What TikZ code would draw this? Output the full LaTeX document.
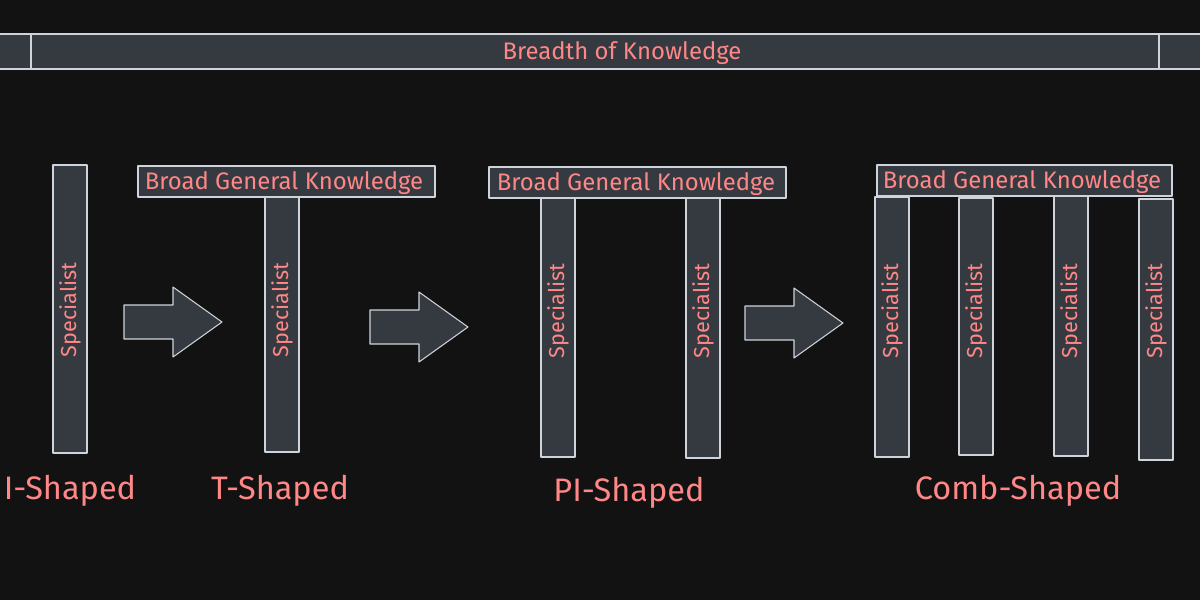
\documentclass[tikz,border=0pt]{standalone}
\usepackage{fontspec}
\setmainfont{Fira Sans}
\definecolor{bgcol}{HTML}{121212}
\definecolor{barfill}{HTML}{343A40}
\definecolor{barline}{HTML}{CED4DA}
\definecolor{salmon}{HTML}{FF8787}
\tikzset{
  bar/.style={draw=barline,fill=barfill,line width=0.6pt,line join=round},
  spec/.style={text=salmon,rotate=90,inner sep=0pt,font=\fontsize{12.3}{14}\selectfont},
  broad/.style={text=salmon,inner sep=0pt,font=\fontsize{13.6}{15}\selectfont},
  shape label/.style={text=salmon,inner sep=0pt,font=\fontsize{18.5}{20}\selectfont},
}
\begin{document}
\begin{tikzpicture}[x=0.02cm,y=-0.02cm]
  \useasboundingbox (0,0) rectangle (1200,600);
  \fill[bgcol] (0,0) rectangle (1200,600);

  % breadth bar
  \draw[bar] (-2,34) rectangle (31,69);
  \draw[bar] (31,34) rectangle (1159,69);
  \draw[bar] (1159,34) rectangle (1202,69);
  \node[broad] (breadth) at (622,53) {Breadth of Knowledge};

  % I-shaped
  \draw[bar] (53,165) rectangle (87,453);
  \node[spec] (ispec) at (70,310) {Specialist};
  \node[shape label] (ilabel) at (70,491) {I-Shaped};

  % T-shaped
  \draw[bar] (265,197) rectangle (299,452);
  \draw[bar] (138,166) rectangle (435,197);
  \node[broad] (tbroad) at (284,183) {Broad General Knowledge};
  \node[spec] (tspec) at (282,310) {Specialist};
  \node[shape label] (tlabel) at (280,491) {T-Shaped};

  % PI-shaped
  \foreach \x/\b [count=\i] in {541/457, 686/458} {
    \draw[bar] (\x,198) rectangle (\x+34,\b);
    \node[spec] (pispec\i) at (\x+17,311) {Specialist};
  }
  \draw[bar] (489,167) rectangle (786,198);
  \node[broad] (pibroad) at (636,184) {Broad General Knowledge};
  \node[shape label] (pilabel) at (629,493) {PI-Shaped};

  % comb-shaped
  \foreach \x/\t/\b [count=\i] in {875/197/457, 959/198/455, 1054/196/456, 1139/199/460} {
    \draw[bar] (\x,\t) rectangle (\x+34,\b);
    \node[spec] (combspec\i) at (\x+17,311) {Specialist};
  }
  \draw[bar] (877,165) rectangle (1172,196);
  \node[broad] (combbroad) at (1022,182) {Broad General Knowledge};
  \node[shape label] (comblabel) at (1018,491) {Comb-Shaped};

  % arrows
  \foreach \x/\y in {124/322, 370/327, 745/323}
    \draw[bar] (\x,\y-17) -- (\x+49,\y-17) -- (\x+49,\y-35) -- (\x+98,\y)
      -- (\x+49,\y+35) -- (\x+49,\y+17) -- (\x,\y+17) -- cycle;
\end{tikzpicture}
\end{document}
